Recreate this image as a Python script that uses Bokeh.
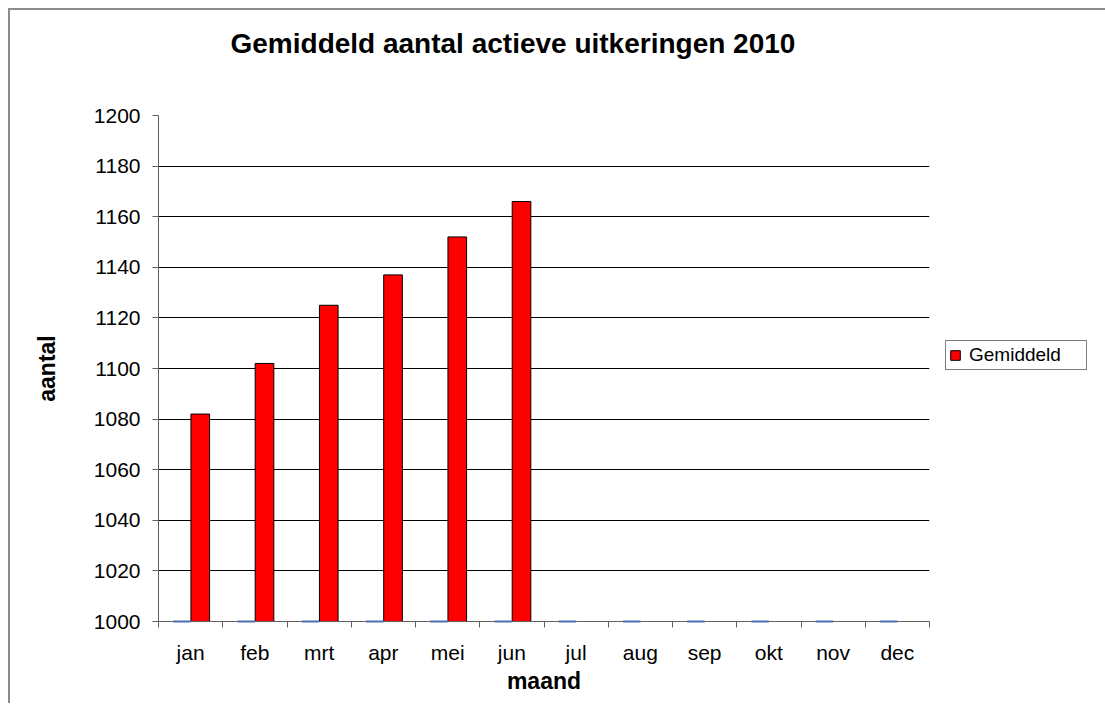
from bokeh.plotting import figure
from bokeh.models import Range1d, FixedTicker, Legend, LegendItem, Title, ColumnDataSource
from bokeh.embed import file_html
from bokeh.resources import INLINE

# ---- data ----
months = ["jan", "feb", "mrt", "apr", "mei", "jun", "jul", "aug", "sep", "okt", "nov", "dec"]
gemiddeld = [1082, 1102, 1125, 1137, 1152, 1166]          # jan..jun
tweede_reeks = [0, 0, 0, 0, 0, 0, 0, 0, 0, 0, 0, 0]      # empty series, clipped at axis minimum
y_ticks = [1000, 1020, 1040, 1060, 1080, 1100, 1120, 1140, 1160, 1180, 1200]
Y_MIN, Y_MAX = 1000, 1200

FONT = "Liberation Sans"

p = figure(frame_width=771, frame_height=506, output_backend="svg", toolbar_location=None,
           x_range=Range1d(0, len(months)), y_range=Range1d(Y_MIN, Y_MAX),
           min_border_left=148, min_border_right=10, min_border_top=105, min_border_bottom=82)
p.styles = {"border-top": "2px solid #8c8c8c", "border-left": "2px solid #8c8c8c",
            "margin-top": "8px", "margin-left": "8px"}
p.outline_line_color = None
p.background_fill_color = "white"
p.border_fill_color = "white"

# red bars (second position in each category)
src = ColumnDataSource(dict(
    x=[i + 0.5 + 0.15 for i in range(len(gemiddeld))],
    top=gemiddeld,
))
bars = p.vbar(x="x", top="top", bottom=Y_MIN, width=0.29, source=src,
              fill_color="#FF0000", line_color="black", line_width=1)

# first series: values below axis minimum -> drawn as flat line at the base
src2 = ColumnDataSource(dict(
    x0=[i + 0.5 - 0.27 for i in range(len(months))],
    x1=[i + 0.5 for i in range(len(months))],
    y=[max(v, Y_MIN) for v in tweede_reeks],
))
p.segment(x0="x0", y0="y", x1="x1", y1="y", source=src2, line_color="#4a6fb0",
          line_width=2, level="overlay")

# axes
p.xaxis.ticker = FixedTicker(ticks=[i + 0.5 for i in range(len(months))],
                             minor_ticks=list(range(len(months) + 1)))
p.xaxis.major_label_overrides = {i + 0.5: m for i, m in enumerate(months)}
p.xaxis.major_tick_out = 0
p.xaxis.major_tick_in = 0
p.xaxis.minor_tick_out = 6
p.xaxis.minor_tick_in = 0
p.xaxis.minor_tick_line_color = "#606060"
p.xaxis.axis_line_color = "#606060"
p.xaxis.major_label_standoff = 13
p.xaxis.major_label_text_font = FONT
p.xaxis.major_label_text_font_size = "21px"
p.xaxis.major_label_text_color = "black"
p.xaxis.axis_label = "maand"
p.xaxis.axis_label_text_font = FONT
p.xaxis.axis_label_text_font_size = "23px"
p.xaxis.axis_label_text_font_style = "bold"
p.xaxis.axis_label_text_color = "black"
p.xaxis.axis_label_standoff = 1

p.yaxis.ticker = FixedTicker(ticks=y_ticks)
p.yaxis.major_tick_out = 6
p.yaxis.major_tick_in = 0
p.yaxis.minor_tick_line_color = None
p.yaxis.major_tick_line_color = "#606060"
p.yaxis.axis_line_color = "#606060"
p.yaxis.major_label_standoff = 12
p.yaxis.major_label_text_font = FONT
p.yaxis.major_label_text_font_size = "21px"
p.yaxis.major_label_text_color = "black"
p.yaxis.axis_label = "aantal"
p.yaxis.axis_label_text_font = FONT
p.yaxis.axis_label_text_font_size = "23px"
p.yaxis.axis_label_text_font_style = "bold"
p.yaxis.axis_label_text_color = "black"
p.yaxis.axis_label_standoff = 31

p.xgrid.grid_line_color = None
p.ygrid.grid_line_color = "black"
p.ygrid.grid_line_width = 1

# title: a spacer title next to the frame, the real title above it
p.title.text = ""
p.add_layout(Title(text=" ", text_font_size="10px", standoff=40), "above")
p.add_layout(Title(text="Gemiddeld aantal actieve uitkeringen 2010", align="left", offset=72,
                   text_font=FONT, text_font_size="28px", text_font_style="bold",
                   text_color="black", standoff=8), "above")

# legend (side panel to the right of the frame)
legend = Legend(items=[LegendItem(label="Gemiddeld", renderers=[bars])],
                location=(16, 251), margin=0, padding=3, spacing=0,
                glyph_width=12, glyph_height=12, label_standoff=8, label_width=114,
                label_text_font=FONT, label_text_font_size="19px", label_text_color="black",
                border_line_color="black", border_line_width=1,
                background_fill_color="white")
p.add_layout(legend, "right")

open("out.html", "w").write(file_html(p, INLINE))
